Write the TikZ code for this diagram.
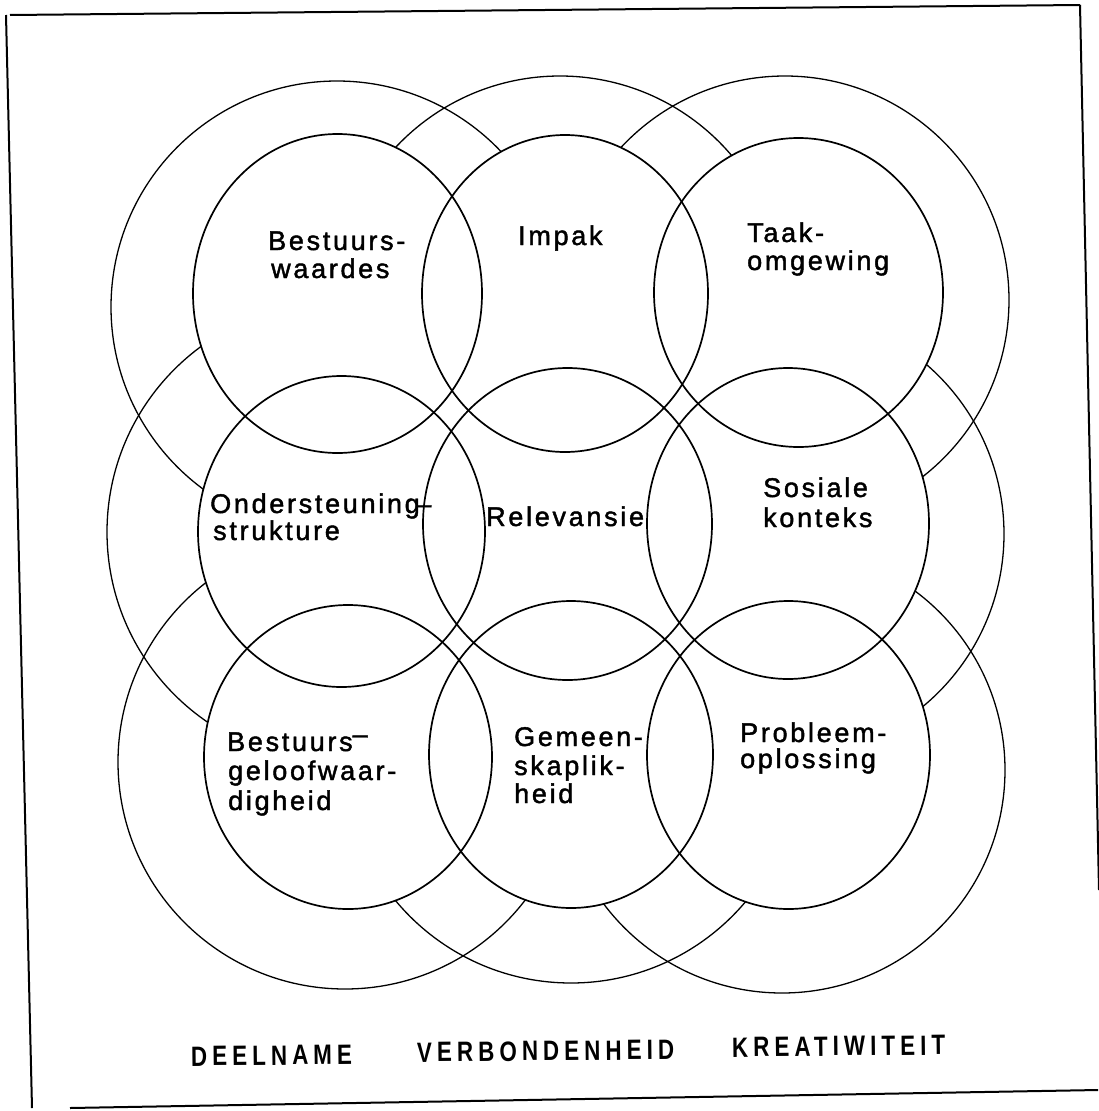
\documentclass[tikz,border=0pt]{standalone}
\usepackage{fontspec}
\newfontfamily\labfont[LetterSpace=10,FakeBold=1.6]{Liberation Sans}
\newfontfamily\capsfont[LetterSpace=18,FakeStretch=0.8]{Liberation Sans}
\begin{document}
\begin{tikzpicture}[x=1pt,y=-1pt,
  outerring/.style={line width=1.3pt},
  innerring/.style={line width=1.7pt},
  lbl/.style={anchor=base west, inner sep=0pt, font=\labfont\fontsize{27}{28}\selectfont},
  foot/.style={anchor=base west, inner sep=0pt, rotate=0.6, font=\capsfont\bfseries\fontsize{28}{30}\selectfont},
  frameline/.style={line width=2pt}]
\useasboundingbox[fill=white] (0,0) rectangle (1098,1111);

% outer rings
\foreach \cx/\cy/\r in {337/307/226, 560/301/225, 785/300/224,
                        337/532/230, 780/534/224,
                        345/762/227, 571/755/228, 782/770/223}
  {\draw[outerring] (\cx,\cy) circle[radius=\r pt];}

% inner circles: white fill hides the outer rings behind them
\foreach \cx/\cy/\rx/\ry in {337.5/293.5/144.5/159.5, 565/293.5/143/158.5, 798.5/292.5/144.5/154.5,
                            341.5/531.5/143.5/155.5, 567.5/524/144.5/156, 788/523.5/141/155.5,
                            348/757/144/152, 571/754.5/142/153.5, 788.5/755/141.5/154}
  {\fill[white] (\cx,\cy) ellipse[x radius=\rx pt, y radius=\ry pt];}
\foreach \cx/\cy/\rx/\ry in {337.5/293.5/144.5/159.5, 565/293.5/143/158.5, 798.5/292.5/144.5/154.5,
                            341.5/531.5/143.5/155.5, 567.5/524/144.5/156, 788/523.5/141/155.5,
                            348/757/144/152, 571/754.5/142/153.5, 788.5/755/141.5/154}
  {\draw[innerring] (\cx,\cy) ellipse[x radius=\rx pt, y radius=\ry pt];}

% labels
\node[lbl] (l1a) at (268,250) {Bestuurs-};
\node[lbl] (l1b) at (271,278) {waardes};
\node[lbl] (l2)  at (518,245) {Impak};
\node[lbl] (l3a) at (747,242) {Taak-};
\node[lbl] (l3b) at (747,270) {omgewing};
\node[lbl] (l4a) at (210,513) {Ondersteuning\kern-0.12em–};
\node[lbl] (l4b) at (213,540) {strukture};
\node[lbl] (l5)  at (486,526) {Relevansie};
\node[lbl] (l6a) at (763,497) {Sosiale};
\node[lbl] (l6b) at (763,527) {konteks};
\node[lbl] (l7a) at (227,751) {Bestuurs\raisebox{0.28em}{–}};
\node[lbl] (l7b) at (228,780) {geloofwaar-};
\node[lbl] (l7c) at (228,810) {digheid};
\node[lbl] (l8a) at (514,746) {Gemeen-};
\node[lbl] (l8b) at (514,775) {skaplik-};
\node[lbl] (l8c) at (514,803) {heid};
\node[lbl] (l9a) at (740,742) {Probleem-};
\node[lbl] (l9b) at (740,768) {oplossing};

\node[foot] (f1) at (191,1066) {DEELNAME};
\node[foot] (f2) at (417,1062) {VERBONDENHEID};
\node[foot] (f3) at (732,1057) {KREATIWITEIT};

% frame
\draw[frameline] (10,15) -- (1080,5);
\draw[frameline] (6,15) -- (32,1108);
\draw[frameline] (1080,5) -- (1099,890);
\draw[frameline] (70,1108) -- (1098,1090);
\end{tikzpicture}
\end{document}
